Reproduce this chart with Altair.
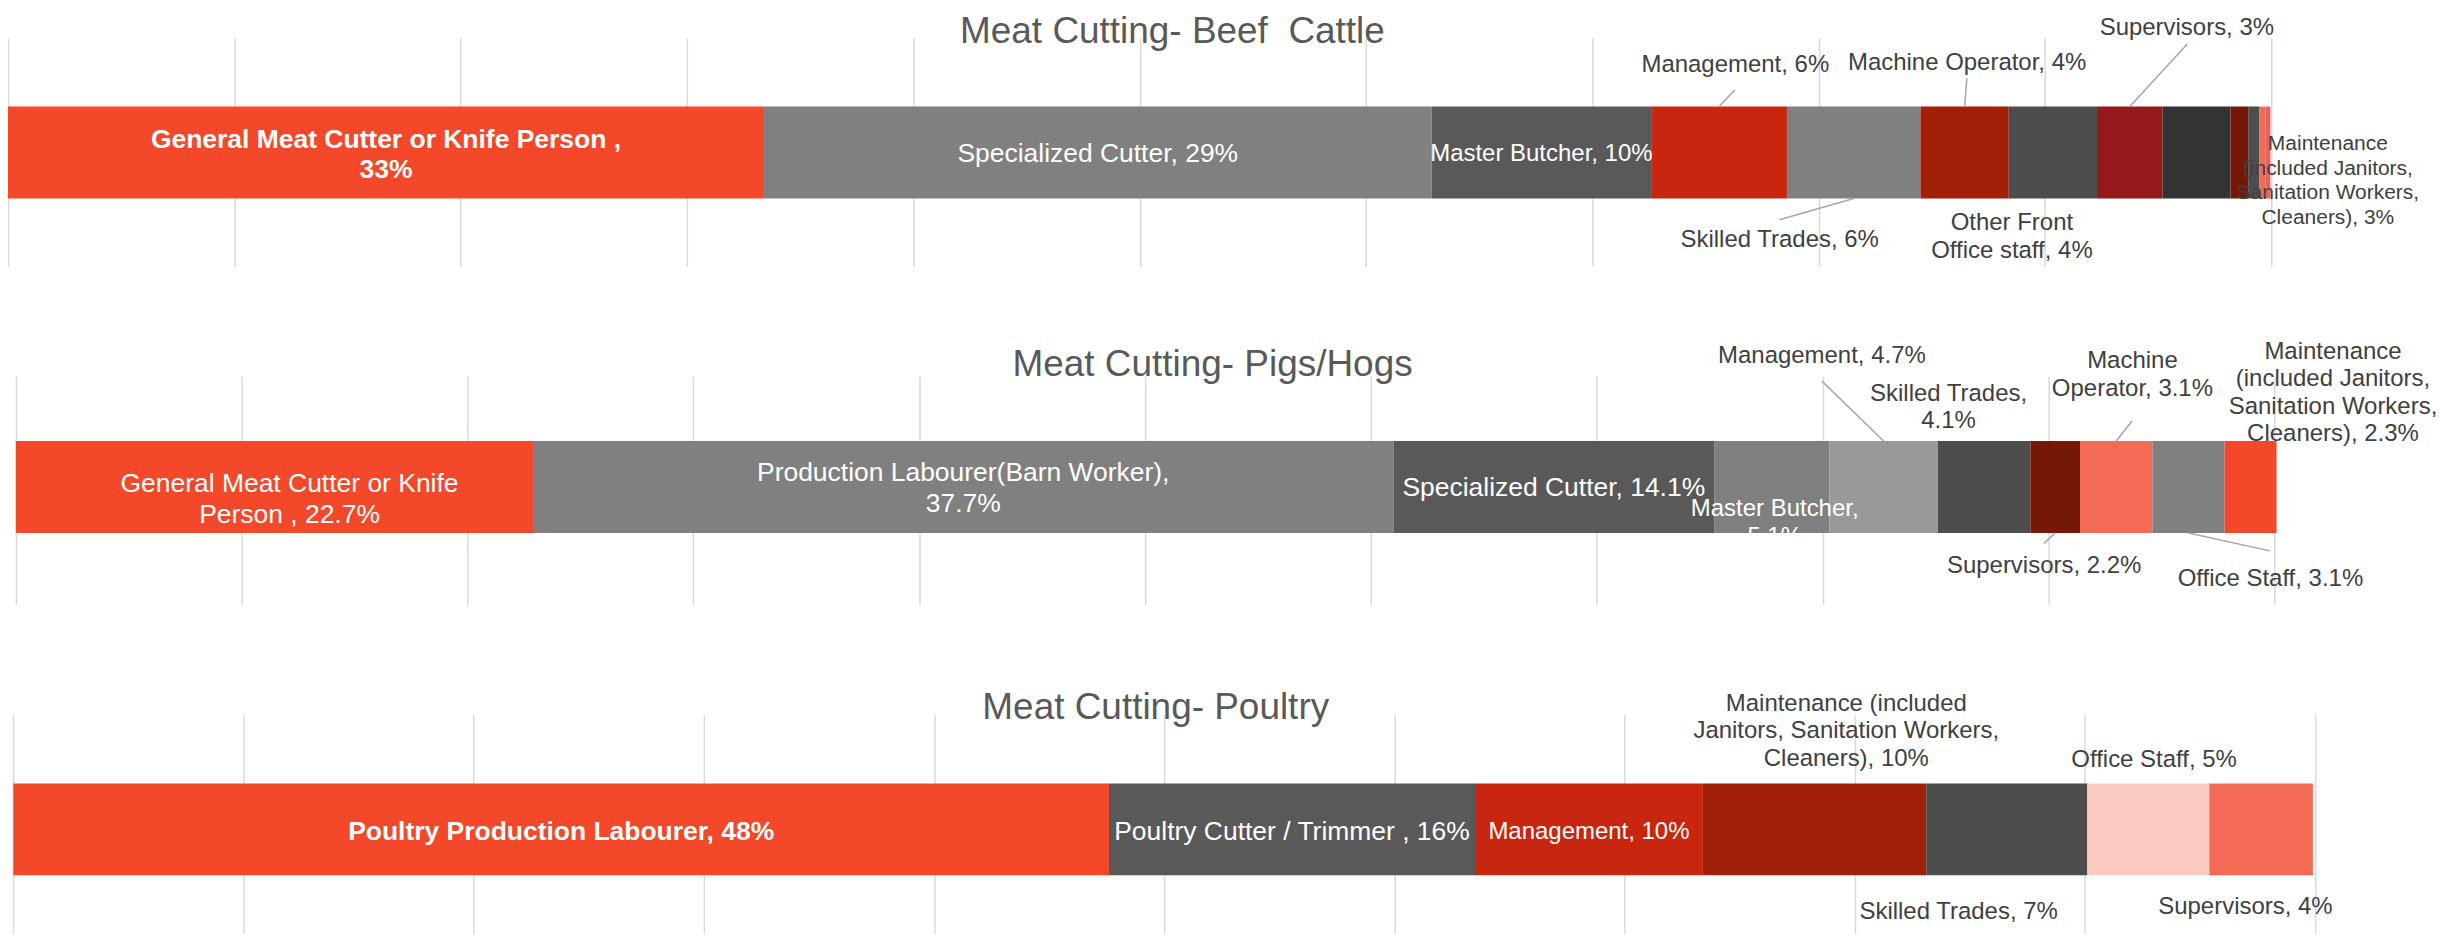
import altair as alt
import pandas as pd

FONT = "Liberation Sans"

# ---------------------------------------------------------------- data
beef_categories = [
    "General Meat Cutter or Knife Person ", "Specialized Cutter", "Master Butcher",
    "Management", "Skilled Trades", "Machine Operator", "Other Front Office staff",
    "Supervisors", "Maintenance (included Janitors, Sanitation Workers, Cleaners)",
    "Other 1", "Other 2", "Other 3", "Other 4",
]
beef_values = [33.4, 29.5, 9.7, 6.0, 5.9, 3.9, 3.9, 2.9, 3.0, 0.78, 0.5, 0.26, 0.22]
beef_value_labels = ["33%", "29%", "10%", "6%", "6%", "4%", "4%", "3%", "3%", "", "", "", ""]

pig_categories = [
    "General Meat Cutter or Knife Person ", "Production Labourer(Barn Worker)",
    "Specialized Cutter", "Master Butcher", "Management", "Skilled Trades",
    "Supervisors", "Machine Operator", "Office Staff",
    "Maintenance (included Janitors, Sanitation Workers, Cleaners)",
]
pig_values = [22.9, 38.1, 14.2, 5.1, 4.8, 4.1, 2.2, 3.2, 3.2, 2.3]
pig_value_labels = ["22.7%", "37.7%", "14.1%", "5.1%", "4.7%", "4.1%", "2.2%", "3.1%", "3.1%", "2.3%"]

poultry_categories = [
    "Poultry Production Labourer", "Poultry Cutter / Trimmer ", "Management",
    "Maintenance (included Janitors, Sanitation Workers, Cleaners)",
    "Skilled Trades", "Office Staff", "Supervisors",
]
poultry_values = [47.6, 15.9, 9.9, 9.7, 7.0, 5.3, 4.5]
poultry_value_labels = ["48%", "16%", "10%", "10%", "7%", "5%", "4%"]

panel_titles = ["Meat Cutting- Beef \u00a0Cattle", "Meat Cutting- Pigs/Hogs", "Meat Cutting- Poultry"]
gridline_ticks = [0, 10, 20, 30, 40, 50, 60, 70, 80, 90, 100]

# ---------------------------------------------------------------- styles
ORANGE = "#F34829"
beef_colors = [ORANGE, "#808080", "#595959", "#C8260E", "#808080", "#A21F0A", "#4D4D4D",
               "#95191A", "#333333", "#761808", "#4D4D4D", "#F46B55", "#E8605F"]
pig_colors = [ORANGE, "#808080", "#595959", "#7F7F7F", "#999999", "#4D4D4D",
              "#761808", "#F46B55", "#808080", ORANGE]
poultry_colors = [ORANGE, "#595959", "#C8260E", "#A21F0A", "#4D4D4D", "#FBCBC2", "#F46B55"]

GRID = "#D9D9D9"
LEADER = "#A6A6A6"
TEXT_STYLES = {
    "title": dict(fontSize=37, color="#595959", fontWeight="normal", lineHeight=42),
    "in_bold": dict(fontSize=26.5, color="#FFFFFF", fontWeight="bold", lineHeight=30.5),
    "in": dict(fontSize=26.5, color="#FFFFFF", fontWeight="normal", lineHeight=30.5),
    "in_small": dict(fontSize=24, color="#FFFFFF", fontWeight="normal", lineHeight=28),
    "out": dict(fontSize=24, color="#404040", fontWeight="normal", lineHeight=27.5),
    "out_small": dict(fontSize=21, color="#404040", fontWeight="normal", lineHeight=24.4),
}

BAR_H = 92          # bar thickness, px
SPACING = 110       # gap between panels, px

# label layout: (index, line-break tokens, label x in % or None = segment centre,
#                label centre above bar centre in px, style, leader-line end (x %, px) or None)
layouts = [
    dict(width=2267, xmin=0.0, height=229, centre=115, title_at=(51.45, 122.5),
         labels=[
             (0, ["33%"], None, -1, "in_bold", None),
             (1, [], None, 0, "in", None),
             (2, [], None, 0, "in_small", None),
             (3, [], 76.32, 89.3, "out", (76.30, 62.7)),
             (4, [], 78.28, -86.3, "out", (78.27, -67.3)),
             (5, [], 86.56, 91.0, "out", (86.55, 74.3)),
             (6, ["Office"], 88.54, -83.2, "out", None),
             (7, [], 96.27, 126.0, "out", (96.29, 108.7)),
             (8, ["(included", "Sanitation", "Cleaners),"], 102.5, -27.3, "out_small", None),
         ]),
    dict(width=2270, xmin=-0.345, height=229, centre=111, title_at=(52.99, 124),
         labels=[
             (0, ["Person"], 12.12, -11.0, "in", None),
             (1, ["37.7%"], None, 0, "in", None),
             (2, [], None, 0, "in", None),
             (3, ["5.1%"], 77.88, -34.7, "in_small", None),
             (4, [], 79.97, 132.7, "out", (79.97, 106.0)),
             (5, ["4.1%"], 85.58, 81.0, "out", None),
             (6, [], 89.81, -77.3, "out", (89.80, -56.7)),
             (7, ["Operator,"], 93.72, 113.5, "out", (93.70, 66.0)),
             (8, [], 99.83, -90.7, "out", (99.81, -64.0)),
             (9, ["(included", "Sanitation", "Cleaners),"], 102.6, 95.6, "out", None),
         ]),
    dict(width=2311, xmin=-0.23, height=219, centre=115, title_at=(49.63, 124),
         labels=[
             (0, [], None, -1, "in_bold", None),
             (1, [], None, -1, "in", None),
             (2, [], None, -1, "in_small", None),
             (3, ["Janitors,", "Cleaners),"], 79.63, 99.8, "out", None),
             (4, [], 84.51, -81.7, "out", None),
             (5, [], 93.0, 70.7, "out", None),
             (6, [], 96.97, -76.0, "out", None),
         ]),
]


def wrap(text, breaks):
    lines, cur = [], []
    for tok in text.split(" "):
        if tok in breaks and cur:
            lines.append(" ".join(cur))
            cur = []
        cur.append(tok)
    lines.append(" ".join(cur))
    return lines


def anchor_up(centre_up, n_lines, style):
    # Vega puts the first line at the anchor; shift so the block is centred
    p = TEXT_STYLES[style]
    return centre_up + (n_lines - 1) * p["lineHeight"] / 2 - 0.058 * p["fontSize"]


def build_panel(title, cats, vals, vlabels, colors, lay):
    n = len(cats)
    H = lay["height"]
    c = lay["centre"]
    bars = pd.DataFrame({"category": cats, "value": vals, "color": colors,
                         "order": list(range(n)), "row": ["bar"] * n})
    ends = bars["value"].cumsum()
    mids = (ends - bars["value"] / 2).tolist()

    xscale = alt.Scale(domain=[lay["xmin"], 100], nice=False, zero=False)
    xaxis = alt.Axis(values=gridline_ticks, grid=True, labels=False, ticks=False,
                     domain=False, title=None, gridColor=GRID, gridWidth=1.5)
    yq = alt.Scale(domain=[-(H - c), c], nice=False, zero=False)
    po = (H / BAR_H - 1) / 2
    align = (c - BAR_H / 2) / (H - BAR_H)

    layers = [
        alt.Chart(bars).mark_bar().encode(
            x=alt.X("value:Q", stack="zero", scale=xscale, axis=xaxis),
            y=alt.Y("row:N", axis=None,
                    scale=alt.Scale(paddingInner=0, paddingOuter=po, align=align)),
            color=alt.Color("color:N", scale=None),
            order=alt.Order("order:Q"),
            tooltip=["category:N", "value:Q"],
        )
    ]

    text_rows, rule_rows = [], []
    tx, ty = lay["title_at"]
    text_rows.append(dict(lx=tx, ly=anchor_up(ty, 1, "title"), text=title, style="title"))
    for idx, breaks, lx, up, style, leader in lay["labels"]:
        lines = wrap(f"{cats[idx]}, {vlabels[idx]}", breaks)
        x = mids[idx] if lx is None else lx
        text_rows.append(dict(lx=x, ly=anchor_up(up, len(lines), style),
                              text="\n".join(lines), style=style))
        if leader is not None:
            y0 = BAR_H / 2 if leader[1] > 0 else -BAR_H / 2
            rule_rows.append(dict(x1=mids[idx], y1=y0, x2=leader[0], y2=leader[1]))

    if rule_rows:
        layers.append(
            alt.Chart(pd.DataFrame(rule_rows)).mark_rule(color=LEADER, strokeWidth=1.5).encode(
                x=alt.X("x1:Q", scale=xscale, axis=xaxis),
                x2="x2:Q",
                y=alt.Y("y1:Q", scale=yq, axis=None),
                y2="y2:Q",
            )
        )

    tdf = pd.DataFrame(text_rows)
    for style, props in TEXT_STYLES.items():
        sub = tdf[tdf["style"] == style]
        if sub.empty:
            continue
        layers.append(
            alt.Chart(sub).mark_text(
                font=FONT, align="center", baseline="middle", lineBreak="\n", **props
            ).encode(
                x=alt.X("lx:Q", scale=xscale, axis=xaxis),
                y=alt.Y("ly:Q", scale=yq, axis=None),
                text="text:N",
            )
        )

    return alt.layer(*layers).resolve_scale(y="independent").properties(
        width=lay["width"], height=H
    )


panels = [
    build_panel(panel_titles[0], beef_categories, beef_values, beef_value_labels, beef_colors, layouts[0]),
    build_panel(panel_titles[1], pig_categories, pig_values, pig_value_labels, pig_colors, layouts[1]),
    build_panel(panel_titles[2], poultry_categories, poultry_values, poultry_value_labels, poultry_colors, layouts[2]),
]

chart = alt.vconcat(*panels, spacing=SPACING, bounds="flush").properties(
    padding={"left": 0, "top": 4, "right": 0, "bottom": 0},
    background="white",
).configure_view(stroke=None)

chart.save("out.html", embed_options={"renderer": "svg", "actions": False})
